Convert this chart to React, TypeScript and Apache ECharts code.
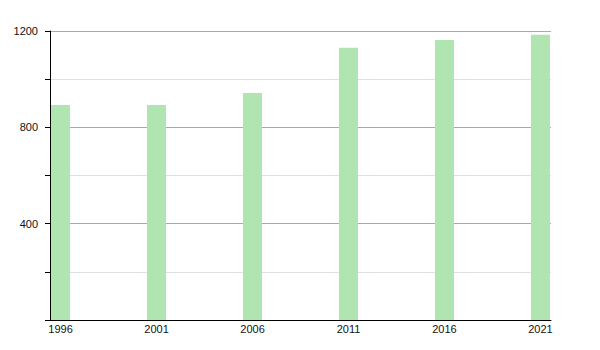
import React, { useEffect, useRef } from "react";
import * as echarts from "echarts";

const years = [1996, 2001, 2006, 2011, 2016, 2021];
const values = [893, 893, 943, 1130, 1163, 1184];
const yTicks = [400, 800, 1200];

export default function App() {
  const ref = useRef<HTMLDivElement>(null);
  useEffect(() => {
    if (!ref.current) return;
    const chart = echarts.init(ref.current, null, { renderer: "svg" });
    const font = "Liberation Sans, Arial, sans-serif";
    chart.setOption({
      animation: false,
      grid: { left: 50, right: 49, top: 31, bottom: 30, containLabel: false },
      xAxis: {
        type: "value",
        min: 1995.45,
        max: 2021.55,
        z: 5,
        axisLine: { show: true, lineStyle: { color: "#000", width: 1 } },
        axisTick: { show: false },
        splitLine: { show: false },
        axisLabel: {
          customValues: years,
          color: "#111",
          fontSize: 11,
          fontFamily: font,
          margin: 3,
          formatter: (v: number) => String(v),
        },
      },
      yAxis: [
        {
          type: "value",
          min: 0,
          max: 1200,
          interval: 400,
          z: 0,
          axisLine: { show: false },
          axisTick: { show: false },
          minorTick: { show: false, splitNumber: 2 },
          splitLine: { show: true, lineStyle: { color: "#aaa", width: 1 } },
          minorSplitLine: { show: true, lineStyle: { color: "#e0e0e0", width: 1 } },
          axisLabel: {
            customValues: yTicks,
            color: "#111",
            fontSize: 11,
            fontFamily: font,
            margin: 12,
            formatter: (v: number) => String(v),
          },
        },
        {
          type: "value",
          position: "left",
          min: 0,
          max: 1200,
          interval: 400,
          z: 5,
          axisLine: { show: true, onZero: false, lineStyle: { color: "#000", width: 1 } },
          axisTick: { show: true, length: 5, lineStyle: { color: "#000" } },
          minorTick: { show: true, splitNumber: 2, length: 5, lineStyle: { color: "#000" } },
          splitLine: { show: false },
          axisLabel: { show: false },
        },
      ],
      series: [
        {
          type: "bar",
          yAxisIndex: 0,
          data: years.map((y, i) => [y, values[i]]),
          barWidth: 19,
          itemStyle: { color: "#b0e4b0" },
          z: 3,
        },
      ],
    });
    return () => chart.dispose();
  }, []);
  return <div ref={ref} style={{ width: 600, height: 350, margin: -8 }} />;
}
